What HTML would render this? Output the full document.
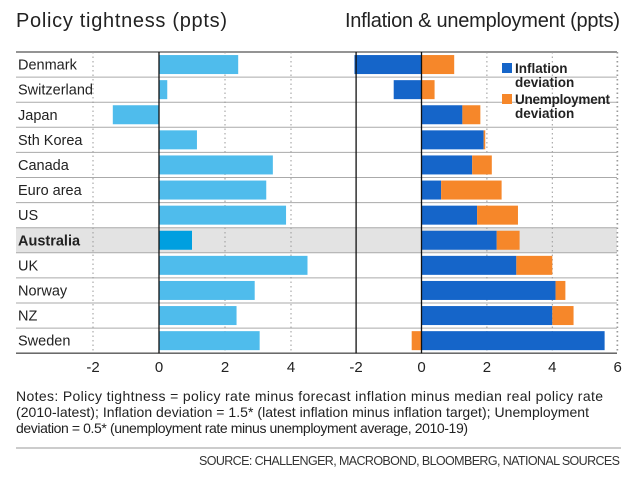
<!DOCTYPE html>
<html><head><meta charset="utf-8"><style>
body{margin:0;background:#fff;font-family:"Liberation Sans",sans-serif;}
svg text{font-family:"Liberation Sans",sans-serif;}
</style></head><body>
<svg id="c" width="637" height="481" xmlns="http://www.w3.org/2000/svg">
<text x="16" y="27" font-size="20" textLength="211" fill="#222">Policy tightness (ppts)</text>
<text x="345" y="27" font-size="20" textLength="275" fill="#222">Inflation &amp; unemployment (ppts)</text>
<g id="plot"></g>
<text x="16" y="401" font-size="14" textLength="587" fill="#222">Notes: Policy tightness = policy rate minus forecast inflation minus median real policy rate</text>
<text x="16" y="417" font-size="14" textLength="573" fill="#222">(2010-latest); Inflation deviation = 1.5* (latest inflation minus inflation target); Unemployment</text>
<text x="16" y="433" font-size="14" textLength="452" fill="#222">deviation = 0.5* (unemployment rate minus unemployment average, 2010-19)</text>
<line x1="16" y1="448" x2="621" y2="448" stroke="#999" stroke-width="1"/>
<text x="199" y="465" font-size="12.5" textLength="421" fill="#333">SOURCE: CHALLENGER, MACROBOND, BLOOMBERG, NATIONAL SOURCES</text>
</svg>
<script>
const countries=["Denmark","Switzerland","Japan","Sth Korea","Canada","Euro area","US","Australia","UK","Norway","NZ","Sweden"];
const tightness=[2.4,0.25,-1.4,1.15,3.45,3.25,3.85,1.0,4.5,2.9,2.35,3.05];
const inflation=[-2.05,-0.85,1.25,1.9,1.55,0.6,1.7,2.3,2.9,4.1,4.0,5.6];
const unemployment=[1.0,0.4,0.55,0.05,0.6,1.85,1.25,0.7,1.1,0.3,0.65,-0.3];
const leftTicks=[-2,0,2,4];
const rightTicks=[-2,0,2,4,6];
const NS="http://www.w3.org/2000/svg";
const plotG=document.getElementById('plot');
function mk(t,a){const e=document.createElementNS(NS,t);for(const k in a)e.setAttribute(k,a[k]);plotG.appendChild(e);return e;}
const xL=v=>159+v*33, xR=v=>421.5+v*32.7;
const topY=52,rowH=25.1,barH=19;
const rowY=i=>topY+i*rowH;
let hl=mk('rect',{x:16,y:rowY(7),width:601,height:rowH,fill:'#e3e3e3'});


for(let i=0;i<=countries.length;i++){
 const edge=(i==0||i==countries.length);
 let l=mk('line',{x1:16,x2:617,y1:rowY(i),y2:rowY(i),stroke:edge?'#555':'#aaa','stroke-width':edge?1.3:1});
 
 
}
leftTicks.forEach(t=>{if(t===0)return;let l=mk('line',{x1:xL(t),x2:xL(t),y1:topY,y2:rowY(12),stroke:'#999','stroke-dasharray':'1.5 3'});
 
 });
rightTicks.forEach(t=>{if(t===0||t===-2)return;let l=mk('line',{x1:xR(t),x2:xR(t),y1:topY,y2:rowY(12),stroke:'#999','stroke-dasharray':'1.5 3'});
 
 });
countries.forEach((c,i)=>{
 const y=rowY(i)+(rowH-barH)/2;
 let t=mk('text',{x:18,y:rowY(i)+rowH/2+5,'font-size':14.5,fill:'#222','font-weight':c==='Australia'?'bold':'normal'});t.textContent=c;
 
 
 const v=tightness[i];
 let b=mk('rect',{x:Math.min(xL(0),xL(v)),y:y,width:Math.abs(xL(v)-xL(0)),height:barH,fill:c==='Australia'?'#009fe0':'#4fbcec'});
 
 
 const iv=inflation[i],uv=unemployment[i];
 let bi=mk('rect',{x:Math.min(xR(0),xR(iv)),y:y,width:Math.abs(xR(iv)-xR(0)),height:barH,fill:'#1565c9'});
 
 
 let s=(iv>0&&uv>0)?iv:0;
 let a=xR(s),b2=xR(s+uv);
 let bu=mk('rect',{x:Math.min(a,b2),y:y,width:Math.abs(b2-a),height:barH,fill:'#f6872a'});
 
 
});
[[xL(0),'left-zero-axis'],[xR(0),'right-zero-axis'],[xR(-2),'panel-divider']].forEach(([x,n])=>{
 let l=mk('line',{x1:x,x2:x,y1:topY,y2:rowY(12),stroke:'#111','stroke-width':1.3});
 
 
});
let rb=mk('line',{x1:617,x2:617,y1:topY,y2:rowY(12),stroke:'#999','stroke-dasharray':'1.5 3'});


leftTicks.forEach(t=>{let e=mk('text',{x:xL(t),y:372,'font-size':15,fill:'#222','text-anchor':'middle'});e.textContent=t;
 
 });
rightTicks.forEach(t=>{let e=mk('text',{x:xR(t),y:372,'font-size':15,fill:'#222','text-anchor':'middle'});e.textContent=t;
 
 });
const lg=[["#1565c9",["Inflation","deviation"],73],["#f6872a",["Unemployment","deviation"],104]];
lg.forEach(([col,txt,y])=>{
 let r=mk('rect',{x:502,y:y-10,width:10,height:10,fill:col});
 
 
 txt.forEach((tt,k)=>{
 const attrs={x:515,y:y+k*14,'font-size':13.5,fill:'#222','font-weight':'bold'};
 if(tt==='Unemployment')attrs.textLength=95;
 let e=mk('text',attrs);e.textContent=tt;
 
 });
});
</script>
</body></html>
